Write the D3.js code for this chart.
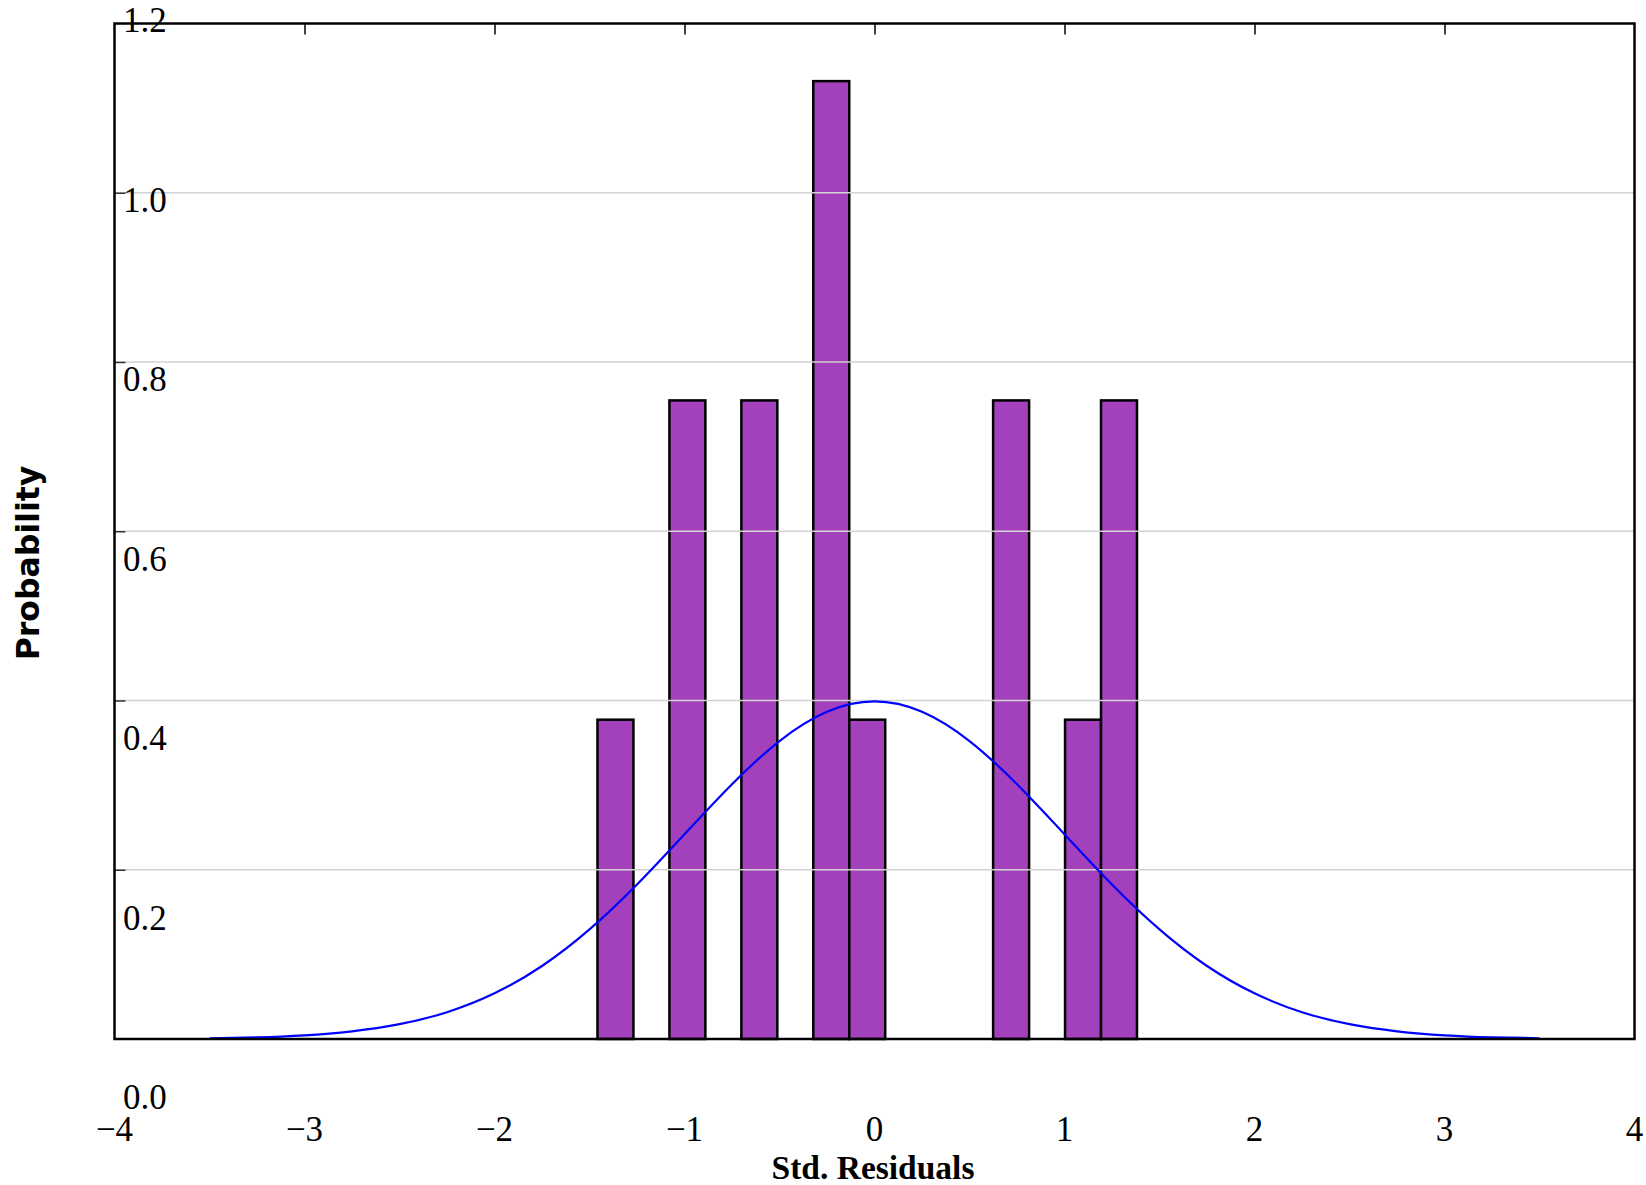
<!DOCTYPE html>
<html>
<head>
<meta charset="utf-8">
<script src="https://cdn.jsdelivr.net/npm/d3@7"></script>
<style>
  html, body { margin: 0; padding: 0; background: #fff; }
  svg { display: block; }
</style>
</head>
<body>
<svg id="chart" width="1646" height="1185"></svg>
<script>
// Histogram of standardized residuals (15 bins, density scale) with N(0,1) overlay
const binWidth = 0.1893;
const binLeft = [-1.458, -1.0794, -0.7008, -0.3222, -0.1329, 0.6243, 1.0029, 1.1922];
const binDensity = [0.3773, 0.7546, 0.7546, 1.1319, 0.3773, 0.7546, 0.3773, 0.7546];

// Reference normal density, sampled every 0.25
const curveX = [-3.5, -3.25, -3, -2.75, -2.5, -2.25, -2, -1.75, -1.5, -1.25, -1, -0.75, -0.5, -0.25, 0,
                0.25, 0.5, 0.75, 1, 1.25, 1.5, 1.75, 2, 2.25, 2.5, 2.75, 3, 3.25, 3.5];
const curveY = [0.0009, 0.0020, 0.0044, 0.0091, 0.0175, 0.0317, 0.0540, 0.0863, 0.1295, 0.1826, 0.2420, 0.3011, 0.3521, 0.3867, 0.3989,
                0.3867, 0.3521, 0.3011, 0.2420, 0.1826, 0.1295, 0.0863, 0.0540, 0.0317, 0.0175, 0.0091, 0.0044, 0.0020, 0.0009];

const xTicks = [-4, -3, -2, -1, 0, 1, 2, 3, 4];
const yTicks = [0, 0.2, 0.4, 0.6, 0.8, 1.0, 1.2];
const xTitle = "Std. Residuals";
const yTitle = "Probability";

const svg = d3.select("#chart");
const L = 114.5, R = 1634.5, T = 23.5, B = 1039;

const x = d3.scaleLinear().domain([-4, 4]).range([L, R]);
const y = d3.scaleLinear().domain([0, 1.2]).range([B, T]);
// y tick labels sit on their own spacing
const yLab = d3.scaleLinear().domain([0, 1.2]).range([1097, 20]);

const serif = "'Liberation Serif', 'Times New Roman', serif";

// bars
svg.append("g").selectAll("rect")
  .data(binLeft.map((b, i) => ({ x0: b, x1: b + binWidth, d: binDensity[i] })))
  .join("rect")
  .attr("x", d => x(d.x0))
  .attr("y", d => y(d.d))
  .attr("width", d => x(d.x1) - x(d.x0))
  .attr("height", d => y(0) - y(d.d))
  .attr("fill", "#a341bd")
  .attr("stroke", "#000")
  .attr("stroke-width", 2.5);

// horizontal grid
svg.append("g").selectAll("line")
  .data(yTicks.filter(v => v > 0 && v < 1.2))
  .join("line")
  .attr("x1", L).attr("x2", R)
  .attr("y1", d => y(d)).attr("y2", d => y(d))
  .attr("stroke", "#d2d2d2")
  .attr("stroke-width", 1.5);

// inward ticks along top and left
const topAxis = d3.axisBottom(x).tickValues(xTicks.slice(1, -1)).tickSize(11).tickFormat("");
svg.append("g").attr("transform", `translate(0,${T})`).call(topAxis)
  .call(g => g.select(".domain").remove())
  .selectAll("line").attr("stroke", "#000").attr("stroke-width", 1.5);

const leftAxis = d3.axisRight(y).tickValues(yTicks.slice(1, -1)).tickSize(11).tickFormat("");
svg.append("g").attr("transform", `translate(${L},0)`).call(leftAxis)
  .call(g => g.select(".domain").remove())
  .selectAll("line").attr("stroke", "#333").attr("stroke-width", 1.5);

// normal curve
const line = d3.line().x(d => x(d[0])).y(d => y(d[1])).curve(d3.curveNatural);
svg.append("path")
  .datum(curveX.map((v, i) => [v, curveY[i]]))
  .attr("d", line)
  .attr("fill", "none")
  .attr("stroke", "#0000ff")
  .attr("stroke-width", 2.2);

// frame
svg.append("rect")
  .attr("x", L).attr("y", T).attr("width", R - L).attr("height", B - T)
  .attr("fill", "none").attr("stroke", "#000").attr("stroke-width", 2.5);

// x tick labels
svg.append("g").selectAll("text")
  .data(xTicks)
  .join("text")
  .attr("x", d => x(d))
  .attr("y", 1129)
  .attr("dy", "0.35em")
  .attr("text-anchor", "middle")
  .attr("font-family", serif)
  .attr("font-size", 35)
  .text(d => d < 0 ? "\u2212" + Math.abs(d) : String(d));

// y tick labels
svg.append("g").selectAll("text")
  .data(yTicks)
  .join("text")
  .attr("x", 123)
  .attr("y", d => yLab(d))
  .attr("dy", "0.35em")
  .attr("font-family", serif)
  .attr("font-size", 35)
  .text(d => d3.format(".1f")(d));

// axis titles
svg.append("text")
  .attr("x", 873).attr("y", 1167).attr("dy", "0.35em")
  .attr("text-anchor", "middle")
  .attr("font-family", serif)
  .attr("font-weight", "bold")
  .attr("font-size", 33.5)
  .text(xTitle);

svg.append("text")
  .attr("transform", "translate(28,563) rotate(-90)")
  .attr("dy", "0.35em")
  .attr("text-anchor", "middle")
  .attr("font-family", "'DejaVu Sans', sans-serif")
  .attr("font-weight", "bold")
  .attr("font-size", 31.5)
  .text(yTitle);
</script>
</body>
</html>
